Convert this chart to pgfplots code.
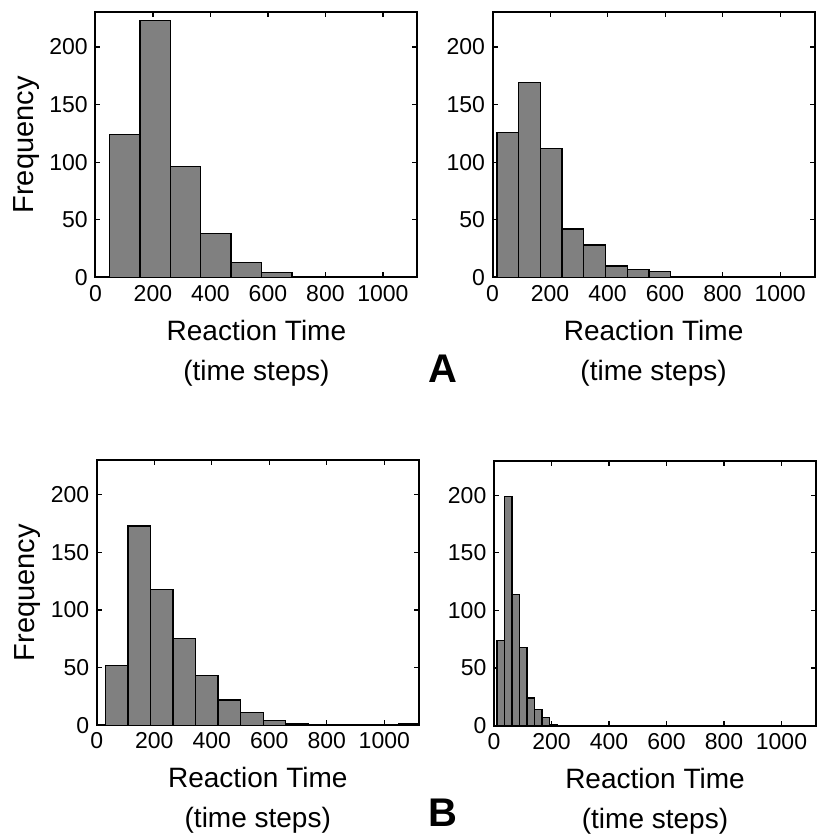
\documentclass[border=0pt]{standalone}
\usepackage{fontspec}
\setmainfont{Liberation Sans}
\usepackage{pgfplots}
\pgfplotsset{compat=1.18}
\definecolor{histgray}{RGB}{128,128,128}
\pgfplotsset{
 rtstyle/.style={
  scale only axis, width=161pt, height=132.5pt,
  xmin=0, xmax=1120, ymin=0, ymax=230,
  xtick={0,200,...,1000}, ytick={0,50,...,200},
  tick align=inside, major tick length=2.5pt,
  line width=1pt,
  every tick/.style={black, line width=0.6pt},
  /pgf/number format/assume math mode=true,
  /pgf/number format/1000 sep={},
  tick label style={font=\fontsize{11.5}{13}\selectfont},
  xlabel={Reaction Time\\(time steps)},
  xlabel style={align=center, font=\fontsize{14}{20}\selectfont,
    at={(axis description cs:0.5,-0.285)}, anchor=center},
  ylabel style={font=\fontsize{14.5}{17}\selectfont,
    at={(axis description cs:-0.215,0.5)}, anchor=center},
  anchor=south west,
 },
 rtbar/.style={ybar interval, fill=histgray, draw=black, line width=0.7pt},
}
\begin{document}
\begin{tikzpicture}
\useasboundingbox (0,0) rectangle (408.5pt,-418pt);
% A, left
\begin{axis}[rtstyle, at={(47.7pt,-138.7pt)}, ylabel={Frequency}]
\addplot[rtbar] coordinates {
(49,124) (154.7,223) (260.4,96) (366.1,38) (471.8,13) (577.5,4)
(683.2,1) (788.9,0) (894.6,0) (1000.3,1) (1106,1)};
\end{axis}
% A, right
\begin{axis}[rtstyle, at={(246.3pt,-138.7pt)}]
\addplot[rtbar] coordinates {
(14.6,126) (90.2,169) (165.8,112) (241.4,42) (317,28) (392.6,10)
(468.2,7) (543.8,5) (619.4,0) (695,1) (770.6,0) (846.2,0)
(921.8,0) (997.4,0) (1073,0) (1148.6,0)};
\end{axis}
% B, left
\begin{axis}[rtstyle, at={(48.4pt,-362.6pt)}, ylabel={Frequency}]
\addplot[rtbar] coordinates {
(30,52) (108.4,173) (186.8,118) (265.2,75) (343.6,43) (422,22)
(500.4,11) (578.8,4) (657.2,1) (735.6,0) (814,0) (892.4,0)
(970.8,0) (1049.2,1) (1127.6,1)};
\end{axis}
% B, right
\begin{axis}[rtstyle, at={(247pt,-362.8pt)}]
\addplot[rtbar] coordinates {
(10.4,74) (36.6,199) (62.8,114) (89,68) (115.2,24) (141.4,14)
(167.6,7) (193.8,1) (220,1)};
\end{axis}
\node[font=\bfseries\fontsize{20}{24}\selectfont] at (221.5pt,-184.5pt) {A};
\node[font=\bfseries\fontsize{20}{24}\selectfont] at (221.5pt,-406.5pt) {B};
\end{tikzpicture}
\end{document}
